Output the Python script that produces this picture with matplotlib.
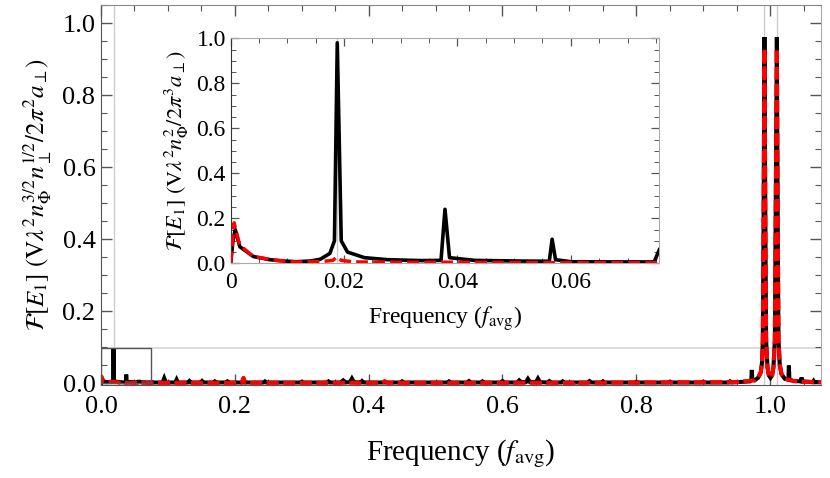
import matplotlib
matplotlib.use("Agg")
import matplotlib.pyplot as plt
from matplotlib.patches import Rectangle
from matplotlib.ticker import MultipleLocator

plt.rcParams['font.family'] = ['Liberation Serif', 'DejaVu Serif']
plt.rcParams['mathtext.fontset'] = 'stix'

# ---------------- data: main panel ----------------
main_black_x = [0.0, 0.0008, 0.003, 0.008, 0.017, 0.0183, 0.0187, 0.0192, 0.021, 0.036,
                0.0373, 0.0377, 0.0382, 0.055, 0.0561, 0.0565, 0.0569, 0.074, 0.0752, 0.0756,
                0.076, 0.092, 0.0945, 0.097, 0.111, 0.113, 0.115, 0.130, 0.132, 0.134,
                0.149, 0.151, 0.153, 0.168, 0.170, 0.172, 0.187, 0.189, 0.191, 0.243,
                0.245, 0.247, 0.298, 0.300, 0.302, 0.338, 0.340, 0.342, 0.358, 0.362,
                0.366, 0.372, 0.375, 0.378, 0.388, 0.390, 0.392, 0.448, 0.450, 0.452,
                0.518, 0.520, 0.522, 0.547, 0.550, 0.553, 0.568, 0.570, 0.572, 0.597,
                0.600, 0.603, 0.622, 0.625, 0.628, 0.635, 0.638, 0.641, 0.650, 0.653,
                0.656, 0.667, 0.670, 0.673, 0.688, 0.690, 0.692, 0.727, 0.730, 0.733,
                0.748, 0.750, 0.752, 0.798, 0.800, 0.802, 0.848, 0.850, 0.852, 0.898,
                0.900, 0.902, 0.938, 0.940, 0.942, 0.960, 0.970, 0.9718, 0.9726, 0.9734,
                0.977, 0.982, 0.986, 0.988, 0.989, 0.990, 0.9915, 0.993, 0.994, 0.996,
                0.998, 1.0005, 1.003, 1.005, 1.007, 1.008, 1.010, 1.0115, 1.0125, 1.0145,
                1.017, 1.022, 1.0272, 1.028, 1.0288, 1.035, 1.046, 1.047, 1.048, 1.064,
                1.065, 1.066, 1.076]
main_black_y = [0.0, 0.016, 0.006, 0.003, 0.004, 0.012, 0.097, 0.012, 0.004, 0.002,
                0.004, 0.024, 0.004, 0.002, 0.003, 0.009, 0.003, 0.002, 0.003, 0.006,
                0.002, 0.002, 0.014, 0.002, 0.002, 0.010, 0.002, 0.002, 0.006, 0.002,
                0.002, 0.006, 0.002, 0.002, 0.005, 0.002, 0.002, 0.005, 0.002, 0.002,
                0.005, 0.002, 0.002, 0.004, 0.002, 0.002, 0.005, 0.002, 0.002, 0.008,
                0.002, 0.003, 0.013, 0.003, 0.002, 0.006, 0.002, 0.002, 0.005, 0.002,
                0.002, 0.005, 0.002, 0.002, 0.006, 0.002, 0.002, 0.005, 0.002, 0.002,
                0.006, 0.002, 0.002, 0.008, 0.003, 0.003, 0.012, 0.003, 0.003, 0.013,
                0.003, 0.002, 0.006, 0.002, 0.002, 0.005, 0.002, 0.002, 0.006, 0.002,
                0.002, 0.005, 0.002, 0.002, 0.004, 0.002, 0.002, 0.004, 0.002, 0.002,
                0.004, 0.002, 0.002, 0.005, 0.002, 0.004, 0.005, 0.008, 0.037, 0.009,
                0.008, 0.015, 0.030, 0.060, 0.120, 0.400, 0.962, 0.400, 0.120, 0.045,
                0.022, 0.015, 0.022, 0.045, 0.120, 0.400, 0.962, 0.400, 0.120, 0.050,
                0.025, 0.012, 0.010, 0.049, 0.010, 0.006, 0.005, 0.016, 0.005, 0.003,
                0.006, 0.003, 0.003]

main_red_x = [0.0, 0.0008, 0.003, 0.008, 0.0187, 0.03, 0.21, 0.213, 0.216, 0.42,
              0.424, 0.428, 0.707, 0.711, 0.715, 0.95, 0.977, 0.982, 0.986, 0.988,
              0.989, 0.990, 0.9915, 0.993, 0.994, 0.996, 0.998, 1.0005, 1.003, 1.005,
              1.007, 1.008, 1.010, 1.0115, 1.0125, 1.0145, 1.017, 1.022, 1.035, 1.05,
              1.076]
main_red_y = [0.0, 0.018, 0.007, 0.003, 0.004, 0.001, 0.001, 0.015, 0.001, 0.001,
              0.006, 0.001, 0.001, 0.006, 0.001, 0.003, 0.008, 0.015, 0.030, 0.060,
              0.120, 0.400, 0.930, 0.400, 0.120, 0.045, 0.022, 0.015, 0.022, 0.045,
              0.120, 0.400, 0.930, 0.400, 0.120, 0.050, 0.025, 0.012, 0.006, 0.004,
              0.003]

main_xticks = [0.0, 0.2, 0.4, 0.6, 0.8, 1.0]
main_xticklabels = ["0.0", "0.2", "0.4", "0.6", "0.8", "1.0"]
main_yticks = [0.0, 0.2, 0.4, 0.6, 0.8, 1.0]
main_yticklabels = ["0.0", "0.2", "0.4", "0.6", "0.8", "1.0"]
main_vgrid = [0.0187, 0.9915, 1.010]
main_hgrid = [0.098]
zoom_box = [0.0, 0.0, 0.075, 0.098]   # x0, y0, x1, y1

# ---------------- data: inset ----------------
ins_black_x = [0.0, 0.0004, 0.0008, 0.0016, 0.004, 0.0069, 0.0095, 0.0116, 0.014, 0.0158,
               0.0175, 0.0183, 0.0188, 0.0195, 0.0206, 0.0236, 0.0277, 0.0336, 0.0371, 0.0378,
               0.0386, 0.043, 0.0512, 0.0562, 0.0567, 0.0573, 0.060, 0.068, 0.0747, 0.0756]
ins_black_y = [0.0, 0.10, 0.15, 0.074, 0.030, 0.016, 0.010, 0.007, 0.010, 0.018,
               0.044, 0.100, 0.980, 0.100, 0.050, 0.025, 0.016, 0.012, 0.013, 0.240,
               0.025, 0.013, 0.010, 0.009, 0.107, 0.016, 0.007, 0.006, 0.006, 0.060]

ins_red_x = [0.0, 0.0006, 0.0016, 0.004, 0.008, 0.0116, 0.0158, 0.018, 0.0188, 0.0195,
             0.0218, 0.034, 0.0378, 0.050, 0.0747, 0.0756]
ins_red_y = [0.0, 0.180, 0.080, 0.030, 0.013, 0.006, 0.007, 0.013, 0.028, 0.013,
             0.006, 0.004, 0.005, 0.003, 0.002, 0.004]

ins_xticks = [0.0, 0.02, 0.04, 0.06]
ins_xticklabels = ["0", "0.02", "0.04", "0.06"]
ins_yticks = [0.0, 0.2, 0.4, 0.6, 0.8, 1.0]
ins_yticklabels = ["0.0", "0.2", "0.4", "0.6", "0.8", "1.0"]
ins_vgrid = [0.0187]

# ---------------- figure ----------------
W, H = 830, 478
fig = plt.figure(figsize=(W / 100, H / 100), dpi=100)

ax = fig.add_axes([101 / W, 1 - 385 / H, 720 / W, 380 / H])
ax.set_xlim(0, 1.076)
ax.set_ylim(-0.005, 1.051)

for gx in main_vgrid:
    ax.axvline(gx, color='#cccccc', lw=1.0, zorder=0)
for gy in main_hgrid:
    ax.axhline(gy, color='#d5d5d5', lw=1.2, zorder=0)

ax.plot(main_black_x, main_black_y, color='black', lw=2.9, solid_joinstyle='miter', zorder=2)
ax.plot(main_red_x, main_red_y, color='#ff0000', lw=2.9, dashes=(3.0, 1.1), zorder=3)

bx0, by0, bx1, by1 = zoom_box
ax.add_patch(Rectangle((bx0, by0), bx1 - bx0, by1 - by0, fill=False,
                       edgecolor='#555555', lw=1.0, zorder=4))

ax.set_xticks(main_xticks)
ax.set_xticklabels(main_xticklabels)
ax.set_yticks(main_yticks)
ax.set_yticklabels(main_yticklabels)
ax.xaxis.set_minor_locator(MultipleLocator(0.05))
ax.yaxis.set_minor_locator(MultipleLocator(0.05))
ax.tick_params(which='both', direction='in', top=True, right=True, colors='#555555',
               labelcolor='black', labelsize=19)
ax.tick_params(which='major', length=8, width=1.0)
ax.tick_params(which='minor', length=4.5, width=0.8)
ax.tick_params(axis='x', pad=8)
ax.tick_params(axis='y', pad=4)
ax.spines['left'].set_color('#555555')
ax.spines['bottom'].set_color('#555555')
ax.spines['top'].set_color('#888888')
ax.spines['right'].set_color('#aaaaaa')

ax.set_xlabel(r'Frequency ($f_{\mathrm{avg}}$)', fontsize=21, labelpad=14)
ax.set_ylabel(r'$\mathcal{F}[E_1]\ (\mathrm{V}\lambda^2 n_\Phi^{3/2} n_\perp^{1/2}/2\pi^2 a_\perp)$',
              fontsize=18, labelpad=7)

# inset
ins = fig.add_axes([230.7 / W, 1 - 263.3 / H, 428 / W, 225 / H])
ins.set_facecolor('white')
ins.set_xlim(0, 0.0755)
ins.set_ylim(0, 1.0)
for gx in ins_vgrid:
    ins.axvline(gx, color='#cccccc', lw=1.0, zorder=0)
ins.plot(ins_black_x, ins_black_y, color='black', lw=2.6, zorder=2)
ins.plot(ins_red_x, ins_red_y, color='#ff0000', lw=2.5, dashes=(3.4, 1.5), zorder=3)

ins.set_xticks(ins_xticks)
ins.set_xticklabels(ins_xticklabels)
ins.set_yticks(ins_yticks)
ins.set_yticklabels(ins_yticklabels)
ins.xaxis.set_minor_locator(MultipleLocator(0.005))
ins.yaxis.set_minor_locator(MultipleLocator(0.05))
ins.tick_params(which='both', direction='in', top=True, right=True, colors='#555555',
                labelcolor='black', labelsize=17)
ins.tick_params(which='major', length=6, width=0.9)
ins.tick_params(which='minor', length=3.5, width=0.7)
ins.tick_params(axis='x', pad=6)
ins.spines['left'].set_color('#333333')
ins.spines['bottom'].set_color('#aaaaaa')
ins.spines['top'].set_color('#aaaaaa')
ins.spines['right'].set_color('#aaaaaa')
ins.set_xlabel(r'Frequency ($f_{\mathrm{avg}}$)', fontsize=17, labelpad=8)
ins.set_ylabel(r'$\mathcal{F}[E_1]\ (\mathrm{V}\lambda^2 n_\Phi^{2}/2\pi^3 a_\perp)$',
               fontsize=16, labelpad=4)

fig.savefig('out.png', dpi=100)
